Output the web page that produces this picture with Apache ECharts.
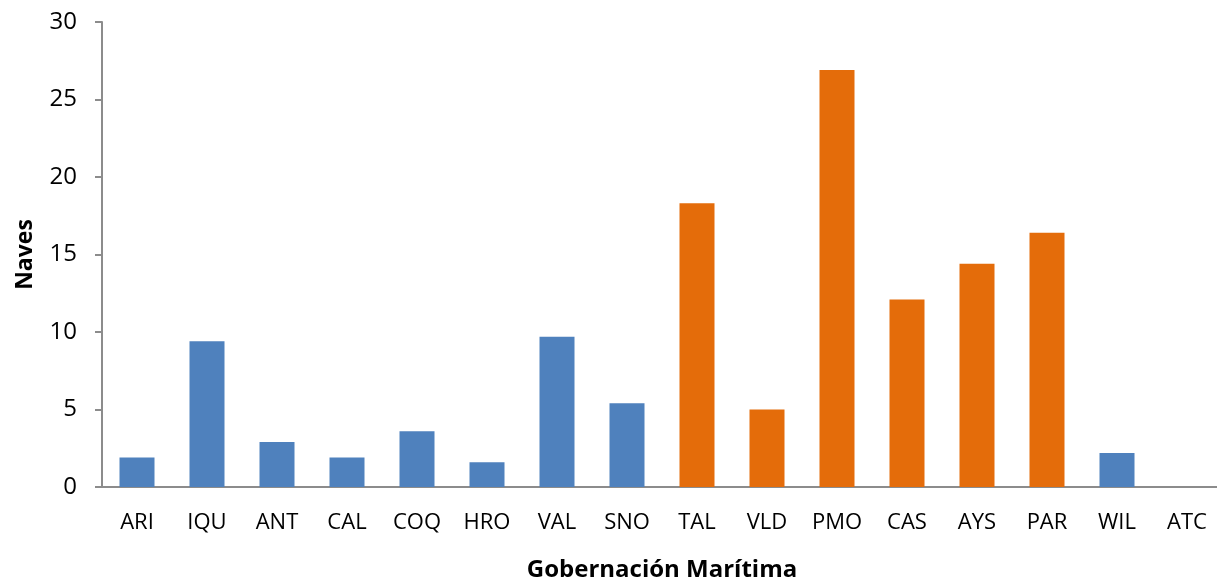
<!DOCTYPE html>
<html>
<head>
<meta charset="utf-8">
<script src="https://cdn.jsdelivr.net/npm/echarts@6/dist/echarts.min.js"></script>
<style>html,body{margin:0;padding:0;background:#fff;overflow:hidden}#c{width:1217px;height:581px}</style>
</head>
<body>
<div id="c"></div>
<script>
const categories = ['ARI','IQU','ANT','CAL','COQ','HRO','VAL','SNO','TAL','VLD','PMO','CAS','AYS','PAR','WIL','ATC'];
const naves = [1.9, 9.4, 2.9, 1.9, 3.6, 1.6, 9.7, 5.4, 18.3, 5.0, 26.9, 12.1, 14.4, 16.4, 2.2, 0];
const highlighted = ['TAL','VLD','PMO','CAS','AYS','PAR'];
const yTicks = [0, 5, 10, 15, 20, 25, 30];

const font = 'Open Sans';
const chart = echarts.init(document.getElementById('c'), null, {renderer: 'canvas', width: 1217, height: 581});
chart.setOption({
  animation: false,
  backgroundColor: '#ffffff',
  grid: {left: 102, right: -5, top: 22, bottom: 94, containLabel: false, outerBoundsMode: 'none'},
  xAxis: {
    type: 'category',
    data: categories,
    name: 'Gobernación Marítima',
    nameLocation: 'middle',
    nameGap: 71,
    nameTextStyle: {fontFamily: font, fontWeight: 'bold', fontSize: 24, color: '#000'},
    axisLine: {lineStyle: {color: '#8c8c8c', width: 2}},
    axisTick: {show: false},
    axisLabel: {fontFamily: font, fontSize: 22, color: '#000', margin: 25, interval: 0}
  },
  yAxis: {
    type: 'value',
    min: yTicks[0],
    max: yTicks[yTicks.length - 1],
    interval: 5,
    name: 'Naves',
    nameLocation: 'middle',
    nameGap: 65,
    nameRotate: 90,
    nameTextStyle: {fontFamily: font, fontWeight: 'bold', fontSize: 23, color: '#000'},
    axisLine: {show: true, lineStyle: {color: '#8c8c8c', width: 2}},
    axisTick: {show: true, length: 7, lineStyle: {color: '#8c8c8c', width: 2}},
    splitLine: {show: false},
    axisLabel: {fontFamily: font, fontSize: 24, color: '#000', margin: 25}
  },
  series: [{
    type: 'bar',
    data: naves,
    barWidth: '50%',
    itemStyle: {
      color: function (p) {
        return highlighted.indexOf(categories[p.dataIndex]) >= 0 ? '#E46C0A' : '#4F81BD';
      }
    }
  }]
});
</script>
</body>
</html>
